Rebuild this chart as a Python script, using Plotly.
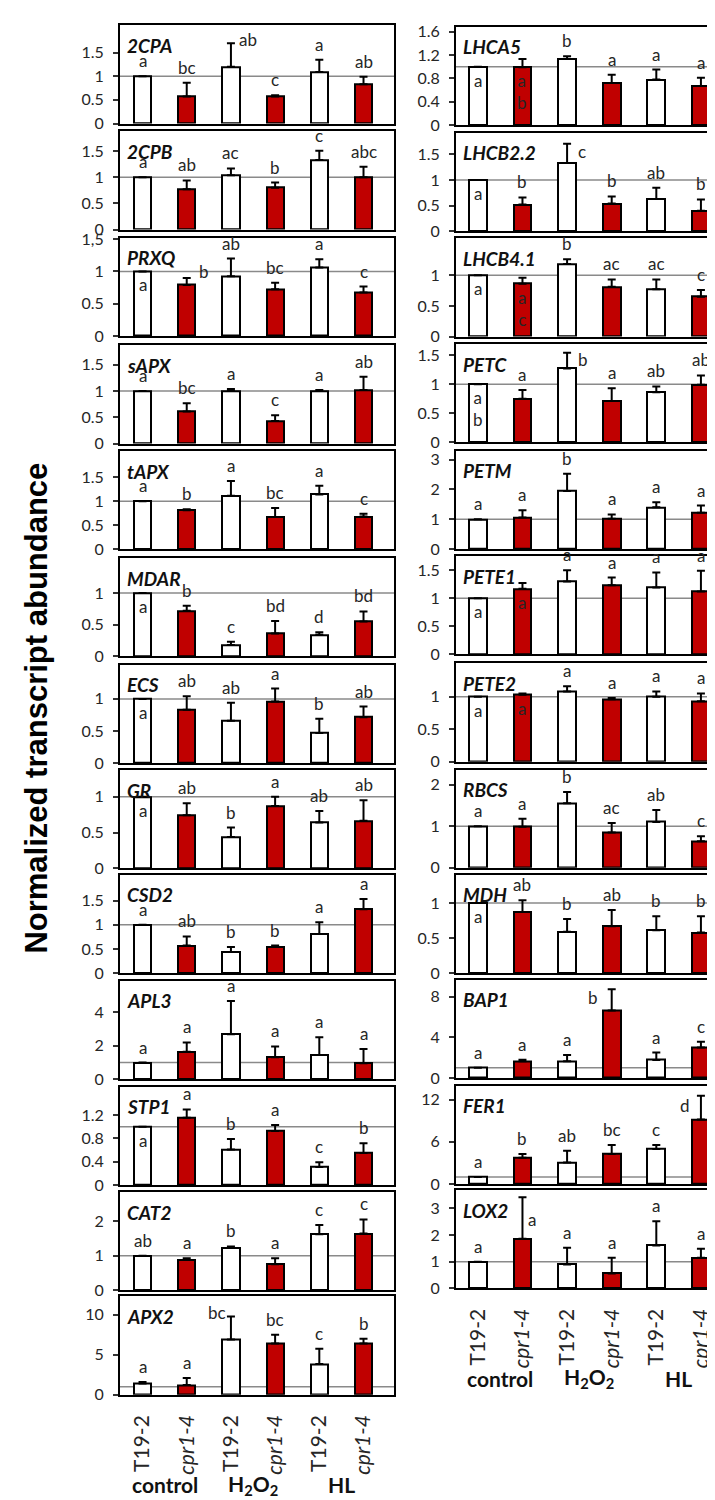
import plotly.graph_objects as go

# ---------------- data ----------------
SAMPLES = ["control T19-2", "control cpr1-4", "H2O2 T19-2", "H2O2 cpr1-4", "HL T19-2", "HL cpr1-4"]
SAMPLE_LABELS = ["T19-2", "<i>cpr1-4</i>", "T19-2", "<i>cpr1-4</i>", "T19-2", "<i>cpr1-4</i>"]
GROUP_LABELS = ["control", "H<sub>2</sub>O<sub>2</sub>", "HL"]

LEFT_GENES = ["2CPA", "2CPB", "PRXQ", "sAPX", "tAPX", "MDAR", "ECS", "GR", "CSD2", "APL3", "STP1", "CAT2", "APX2"]
RIGHT_GENES = ["LHCA5", "LHCB2.2", "LHCB4.1", "PETC", "PETM", "PETE1", "PETE2", "RBCS", "MDH", "BAP1", "FER1", "LOX2"]

# means (m_), upper error (e_), significance letters (l_), y ticks (t_)
m_2CPA = [1.0, 0.57, 1.20, 0.57, 1.09, 0.83]
e_2CPA = [0, 0.29, 0.50, 0.03, 0.26, 0.16]
l_2CPA = ["a", "bc", "ab", "c", "a", "ab"]
t_2CPA = [0, 0.5, 1, 1.5]

m_2CPB = [1.0, 0.77, 1.04, 0.80, 1.33, 1.00]
e_2CPB = [0, 0.17, 0.13, 0.10, 0.18, 0.20]
l_2CPB = ["a", "ab", "ac", "b", "c", "abc"]
t_2CPB = [0, 0.5, 1, 1.5]

m_PRXQ = [1.0, 0.79, 0.925, 0.725, 1.06, 0.675]
e_PRXQ = [0, 0.11, 0.275, 0.10, 0.13, 0.09]
l_PRXQ = ["a", "b", "ab", "bc", "a", "c"]
t_PRXQ = [0, 0.5, 1, 1.5]
tt_PRXQ = ["0", "0.5", "1", "1,5"]

m_sAPX = [1.0, 0.61, 1.0, 0.43, 1.0, 1.02]
e_sAPX = [0, 0.16, 0.04, 0.11, 0.02, 0.25]
l_sAPX = ["a", "bc", "a", "c", "a", "ab"]
t_sAPX = [0, 0.5, 1, 1.5]

m_tAPX = [1.0, 0.81, 1.11, 0.67, 1.14, 0.68]
e_tAPX = [0, 0.02, 0.31, 0.19, 0.18, 0.06]
l_tAPX = ["a", "b", "a", "bc", "a", "c"]
t_tAPX = [0, 0.5, 1, 1.5]

m_MDAR = [1.0, 0.72, 0.18, 0.36, 0.34, 0.55]
e_MDAR = [0, 0.08, 0.05, 0.20, 0.04, 0.16]
l_MDAR = ["a", "b", "c", "bd", "d", "bd"]
t_MDAR = [0, 0.5, 1]

m_ECS = [1.0, 0.83, 0.66, 0.96, 0.47, 0.715]
e_ECS = [0, 0.21, 0.28, 0.20, 0.22, 0.165]
l_ECS = ["a", "ab", "ab", "a", "b", "ab"]
t_ECS = [0, 0.5, 1]

m_GR = [1.0, 0.74, 0.44, 0.87, 0.64, 0.665]
e_GR = [0, 0.17, 0.13, 0.13, 0.16, 0.285]
l_GR = ["a", "ab", "b", "a", "ab", "ab"]
t_GR = [0, 0.5, 1]

m_CSD2 = [1.0, 0.57, 0.44, 0.54, 0.81, 1.32]
e_CSD2 = [0, 0.19, 0.10, 0.03, 0.24, 0.21]
l_CSD2 = ["a", "ab", "b", "b", "a", "a"]
t_CSD2 = [0, 0.5, 1, 1.5]

m_APL3 = [1.0, 1.64, 2.69, 1.31, 1.45, 0.95]
e_APL3 = [0, 0.56, 1.98, 0.65, 1.05, 0.85]
l_APL3 = ["a", "a", "a", "a", "a", "a"]
t_APL3 = [0, 2, 4]

m_STP1 = [1.0, 1.155, 0.61, 0.93, 0.31, 0.55]
e_STP1 = [0, 0.145, 0.18, 0.10, 0.08, 0.17]
l_STP1 = ["a", "a", "b", "a", "c", "b"]
t_STP1 = [0, 0.4, 0.8, 1.2]

m_CAT2 = [1.0, 0.88, 1.23, 0.75, 1.62, 1.64]
e_CAT2 = [0, 0.05, 0.04, 0.18, 0.27, 0.41]
l_CAT2 = ["ab", "a", "b", "a", "c", "c"]
t_CAT2 = [0, 1, 2]

m_APX2 = [1.42, 1.21, 6.9, 6.4, 3.85, 6.4]
e_APX2 = [0.18, 0.89, 2.9, 1.1, 1.9, 0.6]
l_APX2 = ["a", "a", "bc", "bc", "c", "b"]
t_APX2 = [0, 5, 10]

m_LHCA5 = [1.0, 0.99, 1.13, 0.72, 0.78, 0.67]
e_LHCA5 = [0, 0.14, 0.05, 0.14, 0.17, 0.14]
l_LHCA5 = ["a", "a\nb", "b", "a", "a", "a"]
t_LHCA5 = [0, 0.4, 0.8, 1.2, 1.6]

m_LHCB2_2 = [1.0, 0.52, 1.33, 0.54, 0.63, 0.40]
e_LHCB2_2 = [0, 0.14, 0.38, 0.14, 0.22, 0.22]
l_LHCB2_2 = ["a", "b", "c", "b", "ab", "b"]
t_LHCB2_2 = [0, 0.5, 1, 1.5]

m_LHCB4_1 = [1.0, 0.86, 1.18, 0.81, 0.77, 0.65]
e_LHCB4_1 = [0, 0.10, 0.08, 0.12, 0.16, 0.11]
l_LHCB4_1 = ["a", "a\nc", "b", "ac", "ac", "c"]
t_LHCB4_1 = [0, 0.5, 1]

m_PETC = [1.0, 0.75, 1.27, 0.71, 0.86, 0.99]
e_PETC = [0, 0.15, 0.27, 0.22, 0.10, 0.16]
l_PETC = ["a\nb", "a", "b", "a", "ab", "ab"]
t_PETC = [0, 0.5, 1, 1.5]

m_PETM = [1.0, 1.06, 1.95, 1.02, 1.40, 1.22]
e_PETM = [0, 0.24, 0.58, 0.14, 0.17, 0.24]
l_PETM = ["a", "a", "b", "a", "a", "a"]
t_PETM = [0, 1, 2, 3]

m_PETE1 = [1.0, 1.17, 1.30, 1.23, 1.19, 1.12]
e_PETE1 = [0, 0.10, 0.20, 0.14, 0.27, 0.37]
l_PETE1 = ["a", "a", "a", "a", "a", "a"]
t_PETE1 = [0, 0.5, 1, 1.5]

m_PETE2 = [1.0, 1.03, 1.08, 0.96, 1.0, 0.93]
e_PETE2 = [0, 0.02, 0.08, 0.02, 0.08, 0.12]
l_PETE2 = ["a", "a", "a", "a", "a", "a"]
t_PETE2 = [0, 0.5, 1]

m_RBCS = [1.0, 0.99, 1.55, 0.85, 1.10, 0.64]
e_RBCS = [0, 0.19, 0.27, 0.23, 0.29, 0.12]
l_RBCS = ["a", "a", "b", "ac", "ab", "c"]
t_RBCS = [0, 1, 2]

m_MDH = [1.0, 0.87, 0.59, 0.67, 0.61, 0.58]
e_MDH = [0, 0.17, 0.18, 0.23, 0.20, 0.23]
l_MDH = ["a", "ab", "b", "ab", "b", "b"]
t_MDH = [0, 0.5, 1]

m_BAP1 = [1.0, 1.65, 1.65, 6.65, 1.77, 3.0]
e_BAP1 = [0, 0.15, 0.61, 2.09, 0.73, 0.58]
l_BAP1 = ["a", "a", "a", "b", "a", "c"]
t_BAP1 = [0, 4, 8]

m_FER1 = [1.0, 3.75, 3.05, 4.27, 4.98, 9.2]
e_FER1 = [0, 0.52, 1.69, 1.27, 0.56, 3.38]
l_FER1 = ["a", "b", "ab", "bc", "c", "d"]
t_FER1 = [0, 6, 12]

m_LOX2 = [1.0, 1.86, 0.90, 0.56, 1.61, 1.15]
e_LOX2 = [0, 1.56, 0.62, 0.59, 0.91, 0.34]
l_LOX2 = ["a", "a", "a", "a", "a", "a"]
t_LOX2 = [0, 1, 2, 3]

PANELS = {
    "2CPA": (m_2CPA, e_2CPA, l_2CPA, t_2CPA),
    "2CPB": (m_2CPB, e_2CPB, l_2CPB, t_2CPB),
    "PRXQ": (m_PRXQ, e_PRXQ, l_PRXQ, t_PRXQ),
    "sAPX": (m_sAPX, e_sAPX, l_sAPX, t_sAPX),
    "tAPX": (m_tAPX, e_tAPX, l_tAPX, t_tAPX),
    "MDAR": (m_MDAR, e_MDAR, l_MDAR, t_MDAR),
    "ECS": (m_ECS, e_ECS, l_ECS, t_ECS),
    "GR": (m_GR, e_GR, l_GR, t_GR),
    "CSD2": (m_CSD2, e_CSD2, l_CSD2, t_CSD2),
    "APL3": (m_APL3, e_APL3, l_APL3, t_APL3),
    "STP1": (m_STP1, e_STP1, l_STP1, t_STP1),
    "CAT2": (m_CAT2, e_CAT2, l_CAT2, t_CAT2),
    "APX2": (m_APX2, e_APX2, l_APX2, t_APX2),
    "LHCA5": (m_LHCA5, e_LHCA5, l_LHCA5, t_LHCA5),
    "LHCB2.2": (m_LHCB2_2, e_LHCB2_2, l_LHCB2_2, t_LHCB2_2),
    "LHCB4.1": (m_LHCB4_1, e_LHCB4_1, l_LHCB4_1, t_LHCB4_1),
    "PETC": (m_PETC, e_PETC, l_PETC, t_PETC),
    "PETM": (m_PETM, e_PETM, l_PETM, t_PETM),
    "PETE1": (m_PETE1, e_PETE1, l_PETE1, t_PETE1),
    "PETE2": (m_PETE2, e_PETE2, l_PETE2, t_PETE2),
    "RBCS": (m_RBCS, e_RBCS, l_RBCS, t_RBCS),
    "MDH": (m_MDH, e_MDH, l_MDH, t_MDH),
    "BAP1": (m_BAP1, e_BAP1, l_BAP1, t_BAP1),
    "FER1": (m_FER1, e_FER1, l_FER1, t_FER1),
    "LOX2": (m_LOX2, e_LOX2, l_LOX2, t_LOX2),
}
TICKTEXT_OVERRIDE = {"PRXQ": tt_PRXQ}

# ---------------- layout / style ----------------
W, H = 715, 1500
FONT = "Lato"
TXT = "#262626"
RED = "#C00000"
YMAX = {
    "2CPA": 2.08, "2CPB": 1.88, "PRXQ": 1.525, "sAPX": 1.87, "tAPX": 2.04, "MDAR": 1.55,
    "ECS": 1.53, "GR": 1.37, "CSD2": 2.03, "APL3": 5.86, "STP1": 1.69, "CAT2": 2.84, "APX2": 12.3,
    "LHCA5": 1.68, "LHCB2.2": 1.92, "LHCB4.1": 1.6, "PETC": 1.69, "PETM": 3.3, "PETE1": 1.75,
    "PETE2": 1.51, "RBCS": 2.36, "MDH": 1.4, "BAP1": 9.7, "FER1": 14.0, "LOX2": 3.69,
}
LEFT_TOPS = [8.3, 115.7, 223.3, 332.3, 439.3, 547.7, 655.7, 762.3, 868.3, 975.7, 1082.7, 1189.3, 1295.0]
RIGHT_TOPS = [10.0, 117.3, 224.0, 331.0, 439.0, 545.7, 654.3, 761.7, 868.3, 974.3, 1081.7, 1187.3]
PANEL_H = 99.5
COLS = {
    "left": dict(genes=LEFT_GENES, tops=LEFT_TOPS, px=(112, 386), xr=[-0.51, 5.69], bw=0.39),
    "right": dict(genes=RIGHT_GENES, tops=RIGHT_TOPS, px=(448, 713), xr=[-0.49, 5.45], bw=0.40),
}
INSIDE = {("PRXQ", 0), ("MDAR", 0), ("ECS", 0), ("GR", 0), ("STP1", 0), ("LHCA5", 0), ("LHCA5", 1),
          ("LHCB2.2", 0), ("LHCB4.1", 0), ("LHCB4.1", 1), ("PETC", 0), ("PETE1", 0), ("PETE1", 1),
          ("PETE2", 0), ("PETE2", 1), ("MDH", 0)}
# side placement: (anchor side, xshift, yshift)
SIDE = {("2CPA", 2): ("left", 6, 4), ("PRXQ", 1): ("left", 10, 6), ("APX2", 2): ("right", -3, 4),
        ("LHCB2.2", 2): ("left", 9, -8), ("PETC", 2): ("left", 9, -7), ("LOX2", 1): ("left", 4, -22),
        ("BAP1", 3): ("right", -12, -8), ("FER1", 5): ("right", -9, -10)}

fig = go.Figure()
annotations, shapes, axes = [], [], {}
n = 0
for col in ("left", "right"):
    c = COLS[col]
    ng = len(c["genes"])
    for i, g in enumerate(c["genes"]):
        n += 1
        m, e, l, t = PANELS[g]
        xr = "x" if n == 1 else f"x{n}"
        yr = "y" if n == 1 else f"y{n}"
        xk = "xaxis" if n == 1 else f"xaxis{n}"
        yk = "yaxis" if n == 1 else f"yaxis{n}"
        top = c["tops"][i]
        bot = top + PANEL_H
        bottom_panel = (i == ng - 1)

        fig.add_trace(go.Bar(
            x=SAMPLES, y=m, width=c["bw"], xaxis=xr, yaxis=yr, showlegend=False, hoverinfo="skip",
            marker=dict(color=["white", RED] * 3, line=dict(color="black", width=2)),
            error_y=dict(type="data", symmetric=False, array=e, arrayminus=[0] * 6,
                         color="black", thickness=2, width=4),
        ))

        axes[xk] = dict(
            domain=[c["px"][0] / W, c["px"][1] / W], anchor=yr, type="category",
            categoryorder="array", categoryarray=SAMPLES, range=c["xr"],
            showline=True, mirror=True, linecolor="black", linewidth=2,
            showgrid=False, zeroline=False, ticks="", fixedrange=True,
            showticklabels=bottom_panel,
            tickvals=SAMPLES, ticktext=SAMPLE_LABELS, tickangle=-90,
            tickfont=dict(family=FONT, size=21, color=TXT), ticklabelstandoff=10,
        )
        ticktext = TICKTEXT_OVERRIDE.get(g, [f"{v:g}" for v in t])
        axes[yk] = dict(
            domain=[1 - bot / H, 1 - top / H], anchor=xr, range=[0, YMAX[g]],
            tickvals=t, ticktext=ticktext, ticks="outside", ticklen=5, tickwidth=1.5,
            tickcolor="#333", showline=True, mirror=True, linecolor="black", linewidth=2,
            showgrid=False, zeroline=False, fixedrange=True, ticklabelstandoff=6,
            tickfont=dict(family=FONT, size=16, color=TXT),
        )

        shapes.append(dict(type="line", xref=f"{xr} domain", yref=yr, x0=0, x1=1, y0=1, y1=1,
                           line=dict(color="#8a8a8a", width=1.5), layer="below"))

        annotations.append(dict(xref=f"{xr} domain", yref=f"{yr} domain", x=0.02, y=1,
                                xanchor="left", yanchor="middle", yshift=-20, showarrow=False,
                                text=f"<b><i>{g}</i></b>",
                                font=dict(family=FONT, size=19, color="#111")))

        for k in range(6):
            txt = l[k].replace("\n", "<br>")
            ann = dict(xref=xr, yref=yr, x=SAMPLES[k], showarrow=False, text=txt,
                       font=dict(family=FONT, size=17, color=TXT))
            if (g, k) in INSIDE:
                ann.update(y=m[k], yanchor="top", yshift=-1)
            elif (g, k) in SIDE:
                side, xs, ys = SIDE[(g, k)]
                ann.update(y=m[k] + e[k], xanchor=side, yanchor="middle", xshift=xs, yshift=ys)
            else:
                ann.update(y=m[k] + e[k], yanchor="bottom", yshift=3)
            annotations.append(ann)

        if bottom_panel:
            for gi, gl in enumerate(GROUP_LABELS):
                annotations.append(dict(xref=xr, yref="paper", x=2 * gi + 0.5,
                                        y=1 - (bot + 91) / H, yanchor="middle", showarrow=False,
                                        text=f"<b>{gl}</b>",
                                        font=dict(family=FONT, size=21, color="#111")))

annotations.append(dict(xref="paper", yref="paper", x=29 / W, y=1 - 700 / H, showarrow=False,
                        textangle=-90, xanchor="center", yanchor="middle",
                        text="<b>Normalized transcript abundance</b>",
                        font=dict(family="Liberation Sans", size=31, color="black")))

fig.update_layout(
    width=W, height=H, margin=dict(l=0, r=0, t=0, b=0),
    paper_bgcolor="white", plot_bgcolor="white",
    annotations=annotations, shapes=shapes, bargap=0, **axes,
)
fig.write_html("out.html")
